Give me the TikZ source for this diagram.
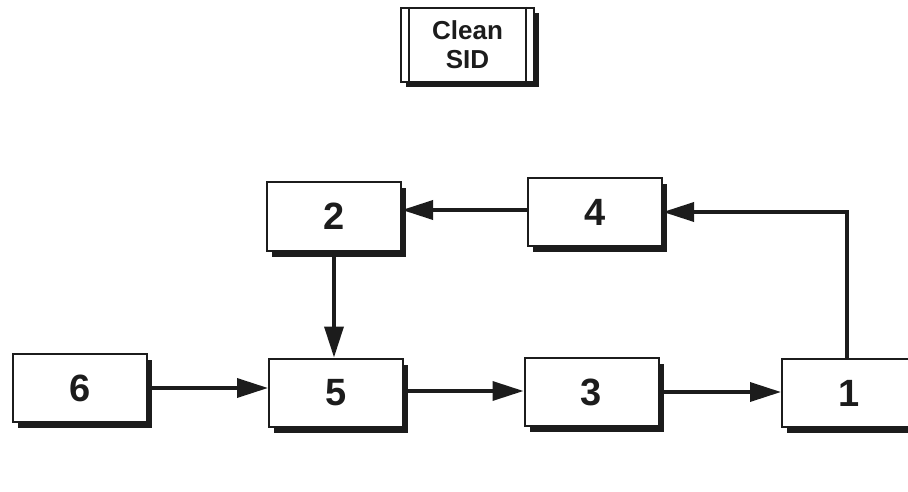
\documentclass[tikz,border=0pt]{standalone}
\usepackage{fontspec}
\setmainfont{Liberation Sans}
\usetikzlibrary{arrows.meta,shadows}
\definecolor{ink}{HTML}{1C1C1C}
\begin{document}
\begin{tikzpicture}[x=1pt,y=-1pt,
  blockbox/.style={draw=ink, fill=white, line width=2pt, inner sep=0pt,
    minimum width=134pt, minimum height=68pt,
    general shadow={fill=ink, shadow xshift=5pt, shadow yshift=-6pt},
    text=ink, font=\fontsize{38}{40}\selectfont\bfseries},
  titlebox/.style={draw=ink, fill=white, line width=2pt, inner sep=0pt,
    minimum width=133pt, minimum height=74pt, align=center,
    general shadow={fill=ink, shadow xshift=5pt, shadow yshift=-5pt},
    text=ink, font=\fontsize{26}{29}\selectfont\bfseries},
  flow/.style={draw=ink, line width=3.5pt,
    -{Triangle[length=31pt,width=19pt]}}]
\useasboundingbox (0,0) rectangle (908,492);

% title block with doubled sides
\node[titlebox] (sid) at (467.5,45) {Clean\\SID};
\draw[ink, line width=1.5pt] ([xshift=9pt]sid.north west) -- ([xshift=9pt]sid.south west);
\draw[ink, line width=1.5pt] ([xshift=-9pt]sid.north east) -- ([xshift=-9pt]sid.south east);

% process blocks
\node[blockbox] (b2) at (334,216.5) {2};
\node[blockbox] (b4) at (595,212) {4};
\node[blockbox] (b6) at (80,388) {6};
\node[blockbox] (b5) at (336,392.5) {5};
\node[blockbox] (b3) at (591.5,392) {3};
\node[blockbox] (b1) at (849,393) {1};

% connectors
\draw[flow] (b6.east) -- (b6.east -| b5.west);
\draw[flow] ([yshift=1.5pt]b5.east) -- ([yshift=1.5pt]b5.east -| b3.west);
\draw[flow] (b3.east) -- (b3.east -| b1.west);
\draw[flow] ([xshift=-2pt]b1.north) |- (b4.east);
\draw[flow] ([yshift=2pt]b4.west) -- ([yshift=2pt]b4.west -| b2.east);
\draw[flow] (b2.south) -- (b2.south |- b5.north);
\end{tikzpicture}
\end{document}
